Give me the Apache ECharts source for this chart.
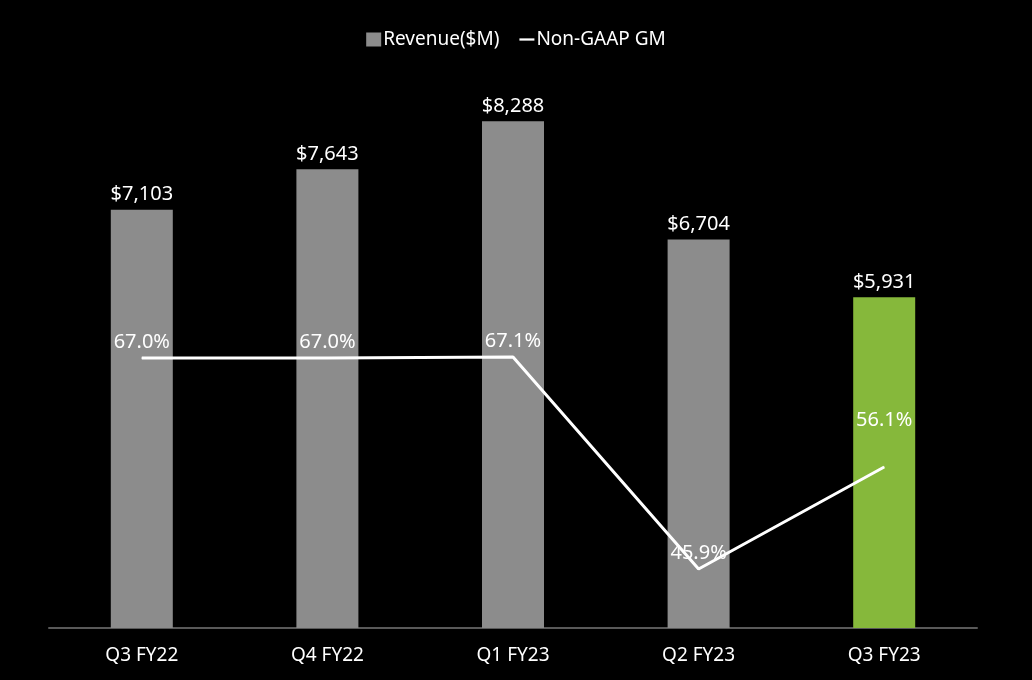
<!DOCTYPE html>
<html>
<head>
<meta charset="utf-8">
<script src="https://cdn.jsdelivr.net/npm/echarts@6/dist/echarts.min.js"></script>
<style>
  html, body { margin: 0; padding: 0; background: #000; }
  #chart { width: 1032px; height: 680px; }
</style>
</head>
<body>
<div id="chart"></div>
<script>
const quarters = ['Q3 FY22', 'Q4 FY22', 'Q1 FY23', 'Q2 FY23', 'Q3 FY23']
const revenue = [7103, 7643, 8288, 6704, 5931]
const grossMargin = [67.0, 67.0, 67.1, 45.9, 56.1]

const chart = echarts.init(document.getElementById('chart'))
const font = '"Noto Sans", Roboto, sans-serif'

// last quarter highlighted in green
const barData = revenue.map((v, i) => ({
  value: v,
  itemStyle: { color: i === revenue.length - 1 ? '#86b83b' : '#8c8c8c' }
}))

// the last GM label sits higher than the rest
const lineData = grossMargin.map((v, i) => ({
  value: v,
  label: i === grossMargin.length - 1 ? { distance: 36 } : {}
}))

chart.setOption({
  backgroundColor: '#000',
  textStyle: { fontFamily: font },
  legend: {
    top: 25,
    left: 'center',
    itemGap: 20,
    itemWidth: 15,
    itemHeight: 14,
    textStyle: { color: '#fff', fontSize: 19, fontFamily: font, padding: [0, 0, 0, -3] },
    data: [
      { name: 'Revenue($M)', icon: 'rect', itemStyle: { color: '#8c8c8c' } },
      { name: 'Non-GAAP GM', icon: 'path://M0,0L20,0L20,3L0,3Z', itemStyle: { color: '#fff' } }
    ]
  },
  grid: { left: 49, right: 55, top: 68, bottom: 52 },
  xAxis: {
    type: 'category',
    data: quarters,
    axisLine: { lineStyle: { color: '#595959', width: 2 } },
    axisTick: { show: false },
    axisLabel: { color: '#fff', fontSize: 19, margin: 18, fontFamily: font }
  },
  yAxis: [
    { type: 'value', min: 1500, max: 9000, show: false, splitLine: { show: false } },
    { type: 'value', min: 40, max: 96, show: false, splitLine: { show: false } }
  ],
  series: [
    {
      name: 'Revenue($M)',
      type: 'bar',
      barWidth: 62,
      itemStyle: { color: '#8c8c8c' },
      label: {
        show: true,
        position: 'top',
        distance: 5,
        color: '#fff',
        fontSize: 20,
        fontFamily: font,
        formatter: p => '$' + p.value.toLocaleString('en-US')
      },
      data: barData
    },
    {
      name: 'Non-GAAP GM',
      type: 'line',
      yAxisIndex: 1,
      symbol: 'circle',
      symbolSize: 1,
      lineStyle: { color: '#fff', width: 3 },
      itemStyle: { color: '#fff' },
      label: {
        show: true,
        position: 'top',
        distance: 5,
        color: '#fff',
        fontSize: 20,
        fontFamily: font,
        formatter: p => p.value.toFixed(1) + '%'
      },
      data: lineData
    }
  ]
})
</script>
</body>
</html>
